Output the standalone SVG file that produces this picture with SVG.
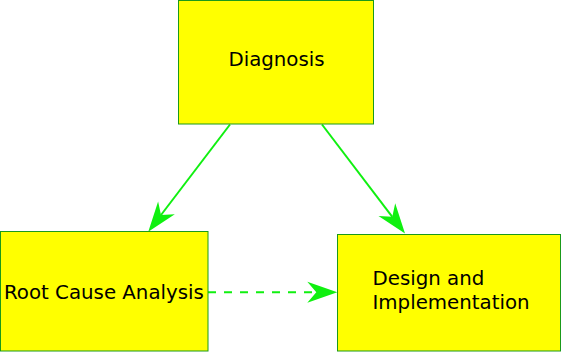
<svg xmlns="http://www.w3.org/2000/svg" width="561" height="352" viewBox="0 0 561 352">
<style>
.box{fill:#ffff00;stroke:#1a9a1a;stroke-width:1}
.lbl{font-family:"DejaVu Sans",sans-serif;font-size:19.8px;fill:#000}
.edge{fill:none;stroke:#10f010;stroke-width:2}
.dash{stroke-dasharray:8 8}
</style>
<defs>
<marker id="ah" markerUnits="userSpaceOnUse" viewBox="-31 -11 32 22" markerWidth="32" markerHeight="22" refX="-21" refY="0" orient="auto">
<path d="M0,0 L-30,-10.5 L-21,0 L-30,10.5 Z" fill="#10f010"/>
</marker>
</defs>
<rect width="561" height="352" fill="#fff"/>
<g id="connectors">
<path class="edge" d="M230,124.5 L161,215" marker-end="url(#ah)"/>
<path class="edge" d="M322,124.5 L392.3,216.8" marker-end="url(#ah)"/>
<path class="edge dash" d="M208,292.3 L316.3,292.3" marker-end="url(#ah)"/>
</g>
<g id="diagnosis">
<rect class="box" x="178.5" y="0.5" width="195" height="123.5"/>
<text class="lbl" x="276.5" y="65.7" text-anchor="middle">Diagnosis</text>
</g>
<g id="rca">
<rect class="box" x="0.5" y="231.5" width="207.5" height="119.5"/>
<text class="lbl" x="4" y="299">Root Cause Analysis</text>
</g>
<g id="design">
<rect class="box" x="337.5" y="234.5" width="223" height="116.5"/>
<text class="lbl" x="372.5" y="285">Design and</text>
<text class="lbl" x="372.5" y="309.3">Implementation</text>
</g>
</svg>
